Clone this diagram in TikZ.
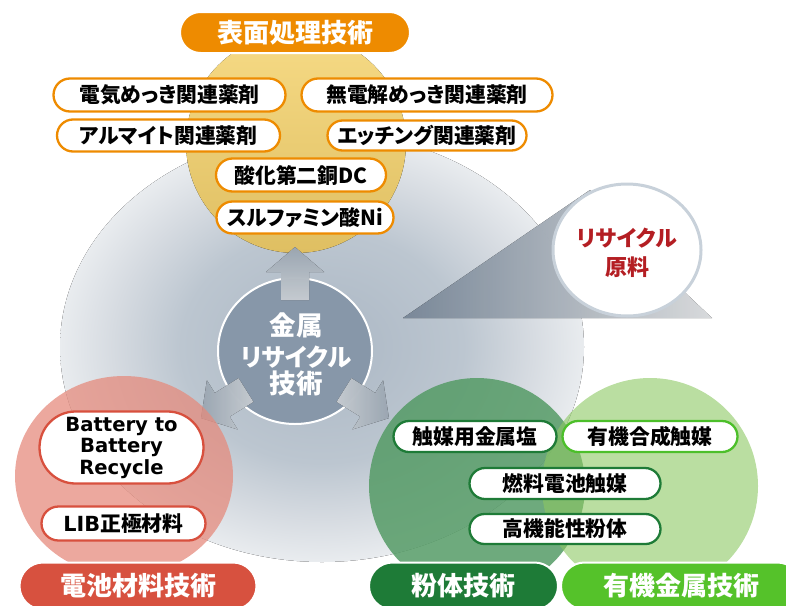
\documentclass[tikz,border=0pt]{standalone}
\usepackage{fontspec}
\newfontfamily\jp{Noto Sans CJK JP}[RawFeature=+palt]
\newfontfamily\lat{DejaVu Sans}
\usetikzlibrary{shapes.misc}
\definecolor{orng}{HTML}{EE8B00}
\definecolor{redlab}{HTML}{D7513F}
\definecolor{redbor}{HTML}{D8503E}
\definecolor{dgreen}{HTML}{1E7B37}
\definecolor{lgreen}{HTML}{55C22A}
\definecolor{lgreenbor}{HTML}{4CBF2A}
\definecolor{ctr}{HTML}{8797A9}
\definecolor{recred}{HTML}{B41E23}
\definecolor{recbor}{HTML}{C8D1DA}
\definecolor{gin}{HTML}{ABB7C4}
\definecolor{gmid}{HTML}{BCC6D0}
\definecolor{gmid2}{HTML}{D6DBE1}
\definecolor{gout}{HTML}{E9ECEF}
\definecolor{tridark}{HTML}{8595A7}
\definecolor{trimid}{HTML}{BAC4CE}
\definecolor{trilight}{HTML}{EEF0F2}
\definecolor{yel1}{HTML}{F6DA85}
\definecolor{yel2}{HTML}{DFBF62}
\definecolor{redfill}{HTML}{E58B7D}
\definecolor{dgfill}{HTML}{559B66}
\definecolor{lgfill}{HTML}{8CC862}
\definecolor{arlight}{HTML}{DEE4EA}
\definecolor{ardark}{HTML}{ADBAC7}
\pgfdeclareradialshading{bigrad}{\pgfpoint{0bp}{0bp}}{color(0bp)=(gin); color(13.5bp)=(gmid); color(20bp)=(gmid2); color(25bp)=(gout); color(50bp)=(gout)}
\tikzset{
  pill/.style={rounded rectangle, draw=#1, line width=2.3pt, fill=white, inner sep=0pt, text=black,
    font=\jp\bfseries\fontsize{20.8}{24}\selectfont},
  lab/.style={rounded rectangle, draw=white, line width=2pt, fill=#1, inner sep=0pt,
    minimum height=47pt, text=white, font=\jp\bfseries\fontsize{26}{30}\selectfont},
  ctrtext/.style={text=white, inner sep=0pt, font=\jp\bfseries\fontsize{26.5}{30}\selectfont},
  rectext/.style={text=recred, inner sep=0pt, font=\jp\bfseries\fontsize{22}{26}\selectfont},
  blockarr/.style={opacity=0.88}
}
\begin{document}
\begin{tikzpicture}[x=1pt,y=-1pt]
\useasboundingbox (0,0) rectangle (786,605);
\clip (0,0) rectangle (786,605);
% big grey disc
\fill[shading=bigrad] (322,347) ellipse [x radius=262pt, y radius=215pt];
% wedge from recycle circle
\fill[left color=tridark, middle color=trimid, right color=trilight, opacity=0.9]
  (403,318) -- (590,190) -- (640,250) -- (712,318) -- cycle;
% yellow disc
\fill[top color=yel1, bottom color=yel2] (296,143) ellipse [x radius=110pt, y radius=110pt];
% central ellipse
\draw[white, line width=2pt, fill=ctr] (295,351) ellipse [x radius=77pt, y radius=73pt];
% block arrows
\begin{scope}[shift={(295,300)}, rotate=90]
  \fill[blockarr, top color=ardark, bottom color=arlight]
    (0,-14) -- (28,-14) -- (28,-29) -- (53,0) -- (28,29) -- (28,14) -- (0,14) -- cycle;
\end{scope}
\begin{scope}[shift={(246,390)}, rotate=212]
  \fill[blockarr, left color=ardark, right color=arlight]
    (0,-14) -- (28,-14) -- (28,-29) -- (53,0) -- (28,29) -- (28,14) -- (0,14) -- cycle;
\end{scope}
\begin{scope}[shift={(344,390)}, rotate=-32]
  \fill[blockarr, left color=arlight, right color=ardark]
    (0,-14) -- (28,-14) -- (28,-29) -- (53,0) -- (28,29) -- (28,14) -- (0,14) -- cycle;
\end{scope}
% coloured discs
\fill[redfill, opacity=0.75] (124,476) ellipse [x radius=109pt, y radius=100pt];
\fill[dgfill, opacity=0.85] (477,486) ellipse [x radius=108pt, y radius=108pt];
\fill[lgfill, opacity=0.6] (650,486) ellipse [x radius=108pt, y radius=108pt];
% recycle circle
\draw[recbor, line width=3pt, fill=white] (627,250) ellipse [x radius=74pt, y radius=66pt];
\node[rectext] (rc1) at (627,238) {リサイクル};
\node[rectext] (rc2) at (627,267) {原料};
% centre text
\node[ctrtext] (c1) at (296,325) {金属};
\node[ctrtext, font=\jp\bfseries\fontsize{24.5}{28}\selectfont] (c2) at (296,357) {リサイクル};
\node[ctrtext] (c3) at (296,383) {技術};
% top pills
\node[pill=orng, minimum width=232pt, minimum height=33pt] (p1) at (169.5,95) {電気めっき関連薬剤};
\node[pill=orng, minimum width=251pt, minimum height=33pt] (p2) at (427,95) {無電解めっき関連薬剤};
\node[pill=orng, minimum width=223pt, minimum height=32pt] (p3) at (168.5,135.5) {アルマイト関連薬剤};
\node[pill=orng, minimum width=199pt, minimum height=30pt] (p4) at (427,135.5) {エッチング関連薬剤};
\node[pill=orng, minimum width=170pt, minimum height=33pt] (p5) at (301,175) {酸化第二銅DC};
\node[pill=orng, minimum width=177pt, minimum height=32pt] (p6) at (305,217.5) {スルファミン酸Ni};
% battery pills
\node[pill=redbor, minimum width=164pt, minimum height=72pt, align=center,
  font=\lat\bfseries\fontsize{19.6}{21.5}\selectfont] (b1) at (121.5,447.5) {Battery to\\Battery\\Recycle};
\node[pill=redbor, minimum width=164pt, minimum height=34pt] (b2) at (123.5,523.5) {{\lat LIB}正極材料};
% green pills
\node[pill=dgreen, minimum width=163pt, minimum height=31pt] (g1) at (475,436.5) {触媒用金属塩};
\node[pill=lgreenbor, minimum width=175pt, minimum height=31pt] (g2) at (650,436.5) {有機合成触媒};
\node[pill=dgreen, minimum width=191pt, minimum height=31pt] (g3) at (565,483.5) {燃料電池触媒};
\node[pill=dgreen, minimum width=191pt, minimum height=30pt] (g4) at (565,529) {高機能性粉体};
% labels
\node[lab=orng, minimum width=230pt, minimum height=41pt] (t) at (295,32.5) {表面処理技術};
\node[lab=redlab, minimum width=237pt] (l1) at (138,586) {電池材料技術};
\node[lab=dgreen, minimum width=189pt] (l2) at (463.5,586) {粉体技術};
\node[lab=lgreen, minimum width=240pt] (l3) at (681,586) {有機金属技術};
\end{tikzpicture}
\end{document}
